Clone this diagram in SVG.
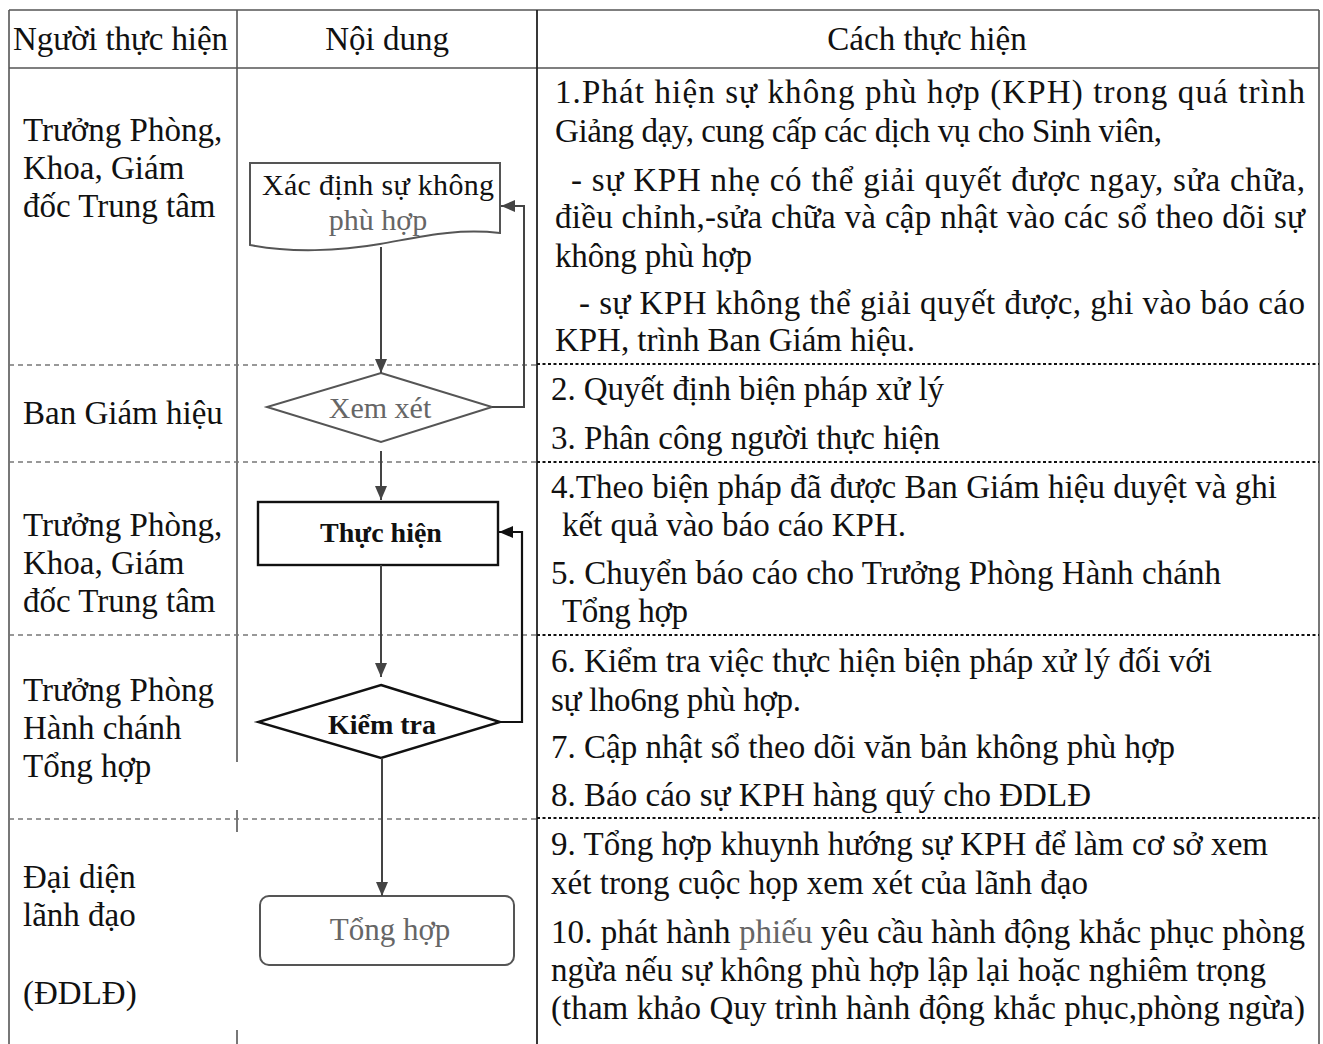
<svg xmlns="http://www.w3.org/2000/svg" width="1323" height="1044" viewBox="0 0 1323 1044">
<style>
text{font-family:"Liberation Serif","Times New Roman",serif;fill:#111}
.t{font-size:33px}
.h{font-size:33px}
.gl{stroke:#555;stroke-width:1.6;fill:none}
.dk{stroke:#222;stroke-width:1.8;fill:none}
.dash{stroke:#777;stroke-width:1.5;stroke-dasharray:5 4;fill:none}
.dot{stroke:#111;stroke-width:2.2;stroke-dasharray:3 2.5;fill:none}
.node-gray{fill:#fff;stroke:#555;stroke-width:2}
.node-black{fill:#fff;stroke:#111;stroke-width:2.4}
.conn{stroke:#444;stroke-width:2;fill:none}
.connb{stroke:#111;stroke-width:2.2;fill:none}
.gt{fill:#666}
</style>
<defs>
<marker id="ag" viewBox="0 0 14 12" refX="14" refY="6" markerWidth="14" markerHeight="12" orient="auto" markerUnits="userSpaceOnUse"><path d="M0,0 L14,6 L0,12 z" fill="#444"/></marker>
<marker id="ab" viewBox="0 0 14 12" refX="14" refY="6" markerWidth="14" markerHeight="12" orient="auto" markerUnits="userSpaceOnUse"><path d="M0,0 L14,6 L0,12 z" fill="#111"/></marker>
</defs>
<rect width="1323" height="1044" fill="#fff"/>
<g id="table">
<line class="gl" x1="9" y1="10" x2="1319" y2="10"/>
<line class="gl" x1="9" y1="68" x2="1319" y2="68"/>
<line class="gl" x1="9" y1="10" x2="9" y2="1044"/>
<line class="gl" x1="237" y1="10" x2="237" y2="762"/>
<line class="gl" x1="237" y1="810" x2="237" y2="832"/>
<line class="gl" x1="237" y1="1030" x2="237" y2="1044"/>
<line class="dk" x1="537" y1="10" x2="537" y2="1044"/>
<line class="gl" x1="1319" y1="10" x2="1319" y2="1044"/>
<line class="dash" x1="9" y1="365" x2="537" y2="365"/>
<line class="dot" x1="537" y1="364" x2="1319" y2="364"/>
<line class="dash" x1="9" y1="462" x2="537" y2="462"/>
<line class="dot" x1="537" y1="462" x2="1319" y2="462"/>
<line class="dash" x1="9" y1="635" x2="537" y2="635"/>
<line class="dot" x1="537" y1="635" x2="1319" y2="635"/>
<line class="dash" x1="9" y1="819" x2="537" y2="819"/>
<line class="dot" x1="537" y1="818" x2="1319" y2="818"/>
</g>
<g id="header">
<text class="h" x="13" y="50" textLength="215" lengthAdjust="spacing">Người thực hiện</text>
<text class="h" x="387" y="50" text-anchor="middle">Nội dung</text>
<text class="h" x="927" y="50" text-anchor="middle">Cách thực hiện</text>
</g>
<g id="actors">
<text class="t" x="23" y="141">Trưởng Phòng,</text>
<text class="t" x="23" y="179">Khoa, Giám</text>
<text class="t" x="23" y="217">đốc Trung tâm</text>
<text class="t" x="23" y="424">Ban Giám hiệu</text>
<text class="t" x="23" y="536">Trưởng Phòng,</text>
<text class="t" x="23" y="574">Khoa, Giám</text>
<text class="t" x="23" y="612">đốc Trung tâm</text>
<text class="t" x="23" y="701">Trưởng Phòng</text>
<text class="t" x="23" y="739">Hành chánh</text>
<text class="t" x="23" y="777">Tổng hợp</text>
<text class="t" x="23" y="888">Đại diện</text>
<text class="t" x="23" y="926">lãnh đạo</text>
<text class="t" x="23" y="1004">(ĐDLĐ)</text>
</g>
<g id="node-xacdinh">
<path class="node-gray" d="M250,163 H500 V233 C455,228 420,237 380,244 C340,251 290,253 250,245 Z"/>
<text x="378" y="195" font-size="30" text-anchor="middle" textLength="232" lengthAdjust="spacing">Xác định sự không</text>
<text x="378" y="230" font-size="30" text-anchor="middle" class="gt">phù hợp</text>
</g>
<g id="node-xemxet">
<polygon class="node-gray" points="381,373 492,407 381,442 267,407"/>
<text x="380" y="418" font-size="30" text-anchor="middle" class="gt">Xem xét</text>
</g>
<g id="node-thuchien">
<rect class="node-black" x="258" y="502" width="240" height="63"/>
<text x="381" y="542" font-size="28" font-weight="bold" text-anchor="middle">Thực hiện</text>
</g>
<g id="node-kiemtra">
<polygon class="node-black" points="381,685 500,722 381,758 258,722"/>
<text x="382" y="734" font-size="28" font-weight="bold" text-anchor="middle">Kiểm tra</text>
</g>
<g id="node-tonghop">
<rect class="node-gray" x="260" y="896" width="254" height="69" rx="9"/>
<text x="390" y="940" font-size="31" text-anchor="middle" class="gt">Tổng hợp</text>
</g>
<g id="connectors">
<line class="conn" x1="381" y1="247" x2="381" y2="373" marker-end="url(#ag)"/>
<polyline class="conn" points="492,407 524,407 524,206 501,206" marker-end="url(#ag)"/>
<line class="conn" x1="381" y1="451" x2="381" y2="500" marker-end="url(#ag)"/>
<line class="conn" x1="381" y1="565" x2="381" y2="677" marker-end="url(#ag)"/>
<polyline class="connb" points="500,722 522,722 522,532 499,532" marker-end="url(#ab)"/>
<line class="conn" x1="382" y1="758" x2="382" y2="896" marker-end="url(#ag)"/>
</g>
<g id="steps">
<text class="t" x="555" y="103" textLength="750" lengthAdjust="spacing">1.Phát hiện sự không phù hợp (KPH) trong quá trình</text>
<text class="t" x="555" y="142" textLength="607" lengthAdjust="spacing">Giảng dạy, cung cấp các dịch vụ cho Sinh viên,</text>
<text class="t" x="571" y="191" textLength="734" lengthAdjust="spacing">- sự KPH nhẹ có thể giải quyết được ngay, sửa chữa,</text>
<text class="t" x="555" y="228" textLength="750" lengthAdjust="spacing">điều chỉnh,-sửa chữa và cập nhật vào các sổ theo dõi sự</text>
<text class="t" x="555" y="267" textLength="197" lengthAdjust="spacing">không phù hợp</text>
<text class="t" x="579" y="314" textLength="726" lengthAdjust="spacing">- sự KPH không thể giải quyết được, ghi vào báo cáo</text>
<text class="t" x="555" y="351" textLength="360" lengthAdjust="spacing">KPH, trình Ban Giám hiệu.</text>
<text class="t" x="551" y="400" textLength="393" lengthAdjust="spacing">2. Quyết định biện pháp xử lý</text>
<text class="t" x="551" y="449" textLength="389" lengthAdjust="spacing">3. Phân công người thực hiện</text>
<text class="t" x="551" y="498" textLength="726" lengthAdjust="spacing">4.Theo biện pháp đã được Ban Giám hiệu duyệt và ghi</text>
<text class="t" x="562" y="536" textLength="344" lengthAdjust="spacing">kết quả vào báo cáo KPH.</text>
<text class="t" x="551" y="584" textLength="670" lengthAdjust="spacing">5. Chuyển báo cáo cho Trưởng Phòng Hành chánh</text>
<text class="t" x="562" y="622" textLength="126" lengthAdjust="spacing">Tổng hợp</text>
<text class="t" x="551" y="672" textLength="661" lengthAdjust="spacing">6. Kiểm tra việc thực hiện biện pháp xử lý đối với</text>
<text class="t" x="551" y="711" textLength="250" lengthAdjust="spacing">sự lho6ng phù hợp.</text>
<text class="t" x="551" y="758" textLength="624" lengthAdjust="spacing">7. Cập nhật sổ theo dõi văn bản không phù hợp</text>
<text class="t" x="551" y="806" textLength="540" lengthAdjust="spacing">8. Báo cáo sự KPH hàng quý cho ĐDLĐ</text>
<text class="t" x="551" y="855" textLength="717" lengthAdjust="spacing">9. Tổng hợp khuynh hướng sự KPH để làm cơ sở xem</text>
<text class="t" x="551" y="894" textLength="537" lengthAdjust="spacing">xét trong cuộc họp xem xét của lãnh đạo</text>
<text class="t" x="551" y="943" textLength="754" lengthAdjust="spacing">10. phát hành <tspan class="gt">phiếu</tspan> yêu cầu hành động khắc phục phòng</text>
<text class="t" x="551" y="981" textLength="715" lengthAdjust="spacing">ngừa nếu sự không phù hợp lập lại hoặc nghiêm trọng</text>
<text class="t" x="551" y="1019" textLength="754" lengthAdjust="spacing">(tham khảo Quy trình hành động khắc phục,phòng ngừa)</text>
</g>
</svg>
